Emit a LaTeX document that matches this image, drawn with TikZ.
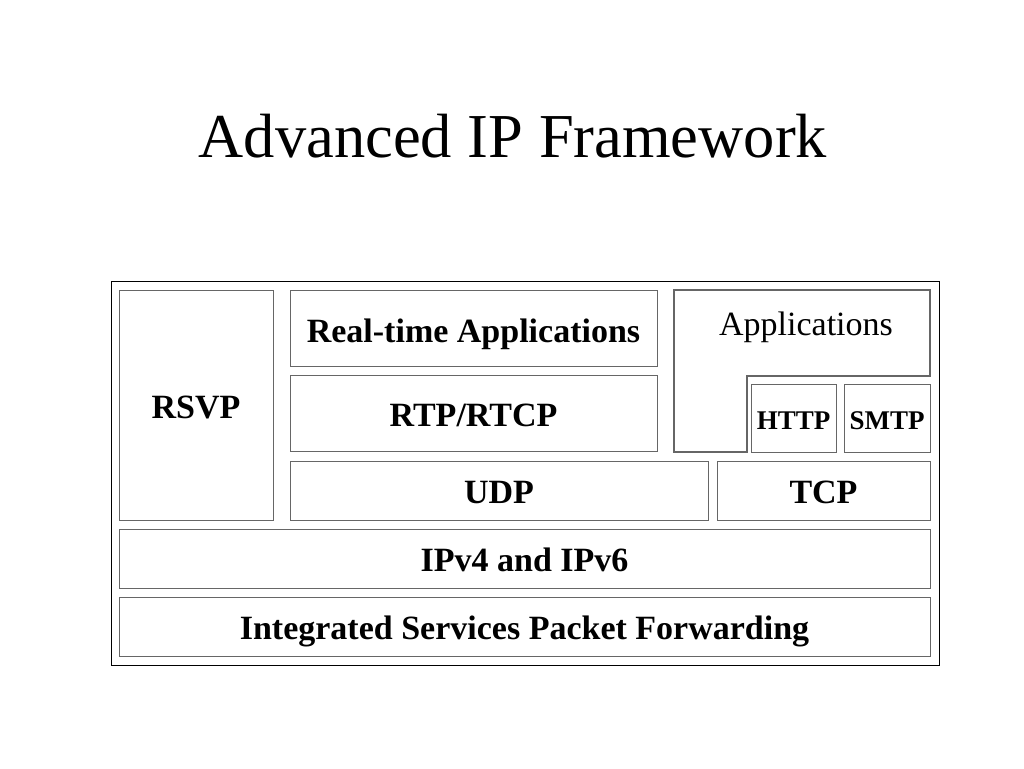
\documentclass[tikz,border=0pt]{standalone}
\usepackage{fontspec}
\setmainfont{Liberation Serif}
\begin{document}
\begin{tikzpicture}[x=1pt,y=-1pt,
  box/.style={draw=black!60,line width=1.2pt,fill=white},
  lbl/.style={font=\fontsize{34}{38}\selectfont\bfseries,inner sep=0pt,anchor=base},
  small/.style={font=\fontsize{27}{30}\selectfont\bfseries,inner sep=0pt,anchor=base}]
\useasboundingbox (0,0) rectangle (1024,768);
\node[inner sep=0pt,anchor=base,font=\fontsize{62.5}{70}\selectfont] (title) at (513,157) {Advanced IP Framework};
\draw[line width=1pt] (111,281) rectangle (939,665);
\node[box,minimum width=154,minimum height=230,anchor=north west] (rsvp) at (119,290) {};
\node[lbl] (rsvpt) at (196,418) {RSVP};
\node[box,minimum width=367,minimum height=76,anchor=north west] (rta) at (290,290) {};
\node[lbl] (rtat) at (473.5,342) {Real-time Applications};
\node[box,minimum width=367,minimum height=76,anchor=north west] (rtp) at (290,375) {};
\node[lbl] (rtpt) at (473.5,426) {RTP/RTCP};
\draw[box] (674,290) -- (930,290) -- (930,376) -- (747,376) -- (747,452) -- (674,452) -- cycle;
\node[inner sep=0pt,anchor=base,font=\fontsize{34}{38}\selectfont] (apps) at (806,335) {Applications};
\node[box,minimum width=85,minimum height=68,anchor=north west] (http) at (751,384) {};
\node[small] (httpt) at (793.5,429) {HTTP};
\node[box,minimum width=86,minimum height=68,anchor=north west] (smtp) at (844,384) {};
\node[small] (smtpt) at (887,429) {SMTP};
\node[box,minimum width=418,minimum height=59,anchor=north west] (udp) at (290,461) {};
\node[lbl] (udpt) at (499,503) {UDP};
\node[box,minimum width=213,minimum height=59,anchor=north west] (tcp) at (717,461) {};
\node[lbl] (tcpt) at (823.5,503) {TCP};
\node[box,minimum width=811,minimum height=59,anchor=north west] (ip) at (119,529) {};
\node[lbl] (ipt) at (524.5,571) {IPv4 and IPv6};
\node[box,minimum width=811,minimum height=59,anchor=north west] (isp) at (119,597) {};
\node[lbl] (ispt) at (524.5,639) {Integrated Services Packet Forwarding};
\end{tikzpicture}
\end{document}
